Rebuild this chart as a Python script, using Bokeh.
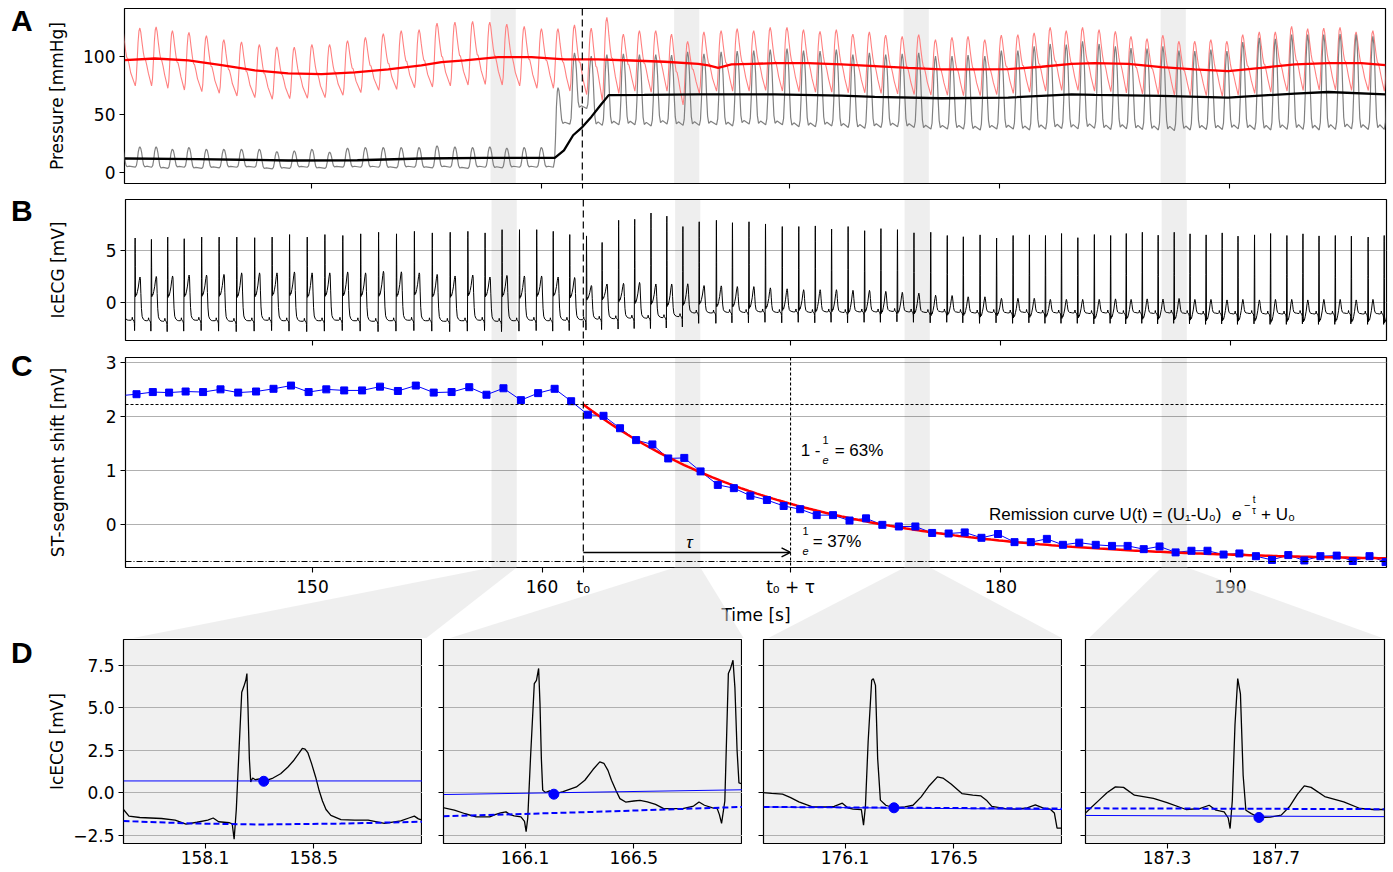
import numpy as np
from bokeh.plotting import figure
from bokeh.layouts import column, row
from bokeh.models import Range1d, FixedTicker, Span, BoxAnnotation, Label, Arrow, OpenHead, Div
from bokeh.embed import file_html
from bokeh.resources import INLINE

# ---------------------------------------------------------------- data
# one entry per heart beat: time of the ST measurement [s] and ST-segment shift [mV]
st_time = [141.56, 142.33, 143.04, 143.75, 144.47, 145.23, 145.99, 146.76, 147.54, 148.30,
           149.06, 149.83, 150.60, 151.38, 152.16, 152.94, 153.72, 154.50, 155.28, 156.06,
           156.83, 157.58, 158.32, 159.08, 159.83, 160.55, 161.27, 162.00, 162.68, 163.40,
           164.10, 164.81, 165.50, 166.20, 166.91, 167.66, 168.36, 169.08, 169.80, 170.53,
           171.25, 171.97, 172.68, 173.40, 174.12, 174.83, 175.55, 176.27, 177.00, 177.72,
           178.42, 179.15, 179.87, 180.59, 181.30, 182.00, 182.70, 183.41, 184.13, 184.84,
           185.52, 186.22, 186.91, 187.61, 188.30, 189.00, 189.70, 190.39, 191.11, 191.81,
           192.52, 193.22, 193.92, 194.63, 195.33, 196.06, 196.76]
st_shift = [2.38, 2.41, 2.45, 2.44, 2.46, 2.45, 2.50, 2.44, 2.46, 2.51,
            2.57, 2.45, 2.50, 2.48, 2.48, 2.55, 2.47, 2.57, 2.44, 2.45,
            2.54, 2.40, 2.52, 2.30, 2.43, 2.51, 2.28, 2.03, 2.01, 1.78,
            1.56, 1.48, 1.22, 1.23, 0.98, 0.73, 0.67, 0.53, 0.45, 0.34,
            0.28, 0.17, 0.17, 0.07, 0.11, -0.01, -0.04, -0.04, -0.16, -0.17,
            -0.15, -0.25, -0.18, -0.33, -0.33, -0.27, -0.38, -0.34, -0.38, -0.40,
            -0.40, -0.46, -0.41, -0.52, -0.49, -0.49, -0.56, -0.54, -0.59, -0.66,
            -0.57, -0.67, -0.59, -0.58, -0.68, -0.59, -0.70]
# IcECG per beat: R-peak, T-peak and isoelectric baseline [mV]
ecg_r = [6.2, 6.2, 6.07, 6.29, 6.13, 6.29, 6.29, 6.29, 6.23, 6.29,
         6.53, 6.29, 6.53, 6.44, 6.6, 6.75, 6.6, 6.84, 6.69, 6.75,
         6.84, 6.69, 7.0, 7.0, 7.0, 6.84, 6.53, 6.4, 5.77, 7.9,
         8.0, 8.6, 8.3, 7.3, 7.76, 7.9, 7.67, 7.76, 7.55, 7.3,
         7.3, 7.36, 7.06, 7.3, 6.9, 7.1, 7.0, 6.7, 6.75, 6.44,
         6.32, 6.5, 6.2, 6.44, 6.5, 6.44, 6.63, 6.23, 6.53, 6.44,
         6.63, 6.75, 6.47, 6.75, 6.6, 6.5, 6.69, 6.38, 6.5, 6.63,
         6.44, 6.6, 6.4, 6.44, 6.38, 6.29, 6.44]
ecg_t = [2.45, 2.45, 2.5, 2.55, 2.64, 2.64, 2.7, 2.85, 2.85, 2.85,
         2.94, 2.85, 2.85, 2.94, 2.85, 3.0, 2.95, 2.85, 2.7, 2.55,
         2.64, 2.45, 2.6, 2.55, 2.55, 2.45, 2.4, 1.63, 1.78, 1.84,
         1.93, 1.78, 1.78, 1.8, 1.63, 1.6, 1.53, 1.53, 1.41, 1.32,
         1.23, 1.23, 1.23, 1.17, 1.17, 1.07, 0.98, 0.9, 0.7, 0.67,
         0.55, 0.55, 0.4, 0.4, 0.4, 0.3, 0.3, 0.3, 0.3, 0.35,
         0.3, 0.35, 0.33, 0.39, 0.3, 0.3, 0.25, 0.3, 0.25, 0.3,
         0.3, 0.25, 0.3, 0.3, 0.25, 0.3, 0.3]
ecg_base = [-1.75, -1.7, -1.75, -1.8, -1.75, -1.7, -1.75, -1.8, -1.75, -1.7,
            -1.75, -1.8, -1.75, -1.7, -1.75, -1.8, -1.75, -1.7, -1.75, -1.8,
            -1.75, -1.7, -1.8, -1.75, -1.7, -1.75, -1.7, -1.65, -1.6, -1.55,
            -1.5, -1.5, -1.45, -1.35, -1.0, -1.0, -0.95, -0.95, -0.9, -0.95,
            -0.9, -0.95, -0.9, -0.95, -0.9, -0.9, -0.85, -0.9, -0.95, -0.9,
            -0.95, -1.0, -0.95, -1.0, -0.95, -1.0, -1.0, -1.0, -1.05, -1.0,
            -1.05, -1.0, -1.05, -1.0, -1.05, -1.1, -1.05, -1.1, -1.05, -1.1,
            -1.1, -1.05, -1.1, -1.1, -1.05, -1.1, -1.1]
# pressures per beat [mmHg]: red (systolic / diastolic) and grey curve (peak / trough)
red_sys = [126, 124.2, 125.1, 121.9, 120.5, 117.7, 114.2, 112.3, 110, 108,
           107.7, 110, 110, 113.4, 116.2, 119.4, 121.9, 122.8, 128.5, 129.3,
           130, 129.3, 127.6, 125.6, 123.6, 123.6, 127, 124.2, 133.3, 119,
           122, 122, 119, 112.8, 120.8, 122, 123.6, 122, 124.8, 124.8,
           122.8, 121.4, 122.8, 119, 120.8, 118, 117, 118.5, 114.2, 116.2,
           117, 114.2, 118, 118.5, 120, 124.8, 122, 124.8, 122.8, 121.4,
           117, 115, 118, 112.8, 112.8, 114.2, 112.8, 118.5, 120.8, 120.8,
           125.6, 123.6, 124.2, 124.8, 120.8, 122, 122]
red_dia = [75, 74.4, 74.4, 72.4, 70.9, 69.5, 68.1, 65.8, 64.4, 63,
           63.5, 63.8, 64.4, 66.4, 68.7, 70.7, 71.5, 72.9, 73.5, 74.4,
           75.2, 75.8, 75.2, 74.4, 72.4, 72.4, 70, 67, 62, 68,
           70, 69, 70, 58, 68, 70, 70, 70, 70.5, 70,
           69.5, 69, 69, 68.5, 68.5, 68, 67.5, 67, 66.5, 66.5,
           66, 66, 67, 68, 69, 70, 70.5, 70.5, 70, 69.5,
           68.5, 67.5, 67, 66.5, 66, 66, 65.5, 66.5, 68, 69,
           70, 70.5, 71, 71, 70.5, 70.5, 70]
gray_sys = [21, 22, 22, 20, 21.5, 20, 20, 20, 20, 18,
            18.5, 20, 17.5, 21, 21.5, 21.5, 21.5, 21.5, 23, 22,
            21.5, 22, 21, 21.5, 21.5, 73, 102.8, 100, 101.4, 102,
            101.4, 101.4, 101, 103.7, 102, 103.7, 104.3, 104.8, 105.7, 106.6,
            104.8, 104.3, 105.7, 101.4, 102.8, 101.4, 102, 102.8, 100, 100,
            100.9, 100, 104.8, 104.8, 108.5, 110.5, 110, 112.8, 110.5, 108.5,
            107, 106.6, 108.5, 104.8, 104.3, 105.7, 104.3, 112.2, 115.7, 115,
            118.5, 118.5, 118.5, 119, 118.5, 117, 117]
gray_dia = [4.5, 4.6, 4.5, 3.5, 4.5, 3.5, 4.0, 4.5, 4.5, 3.1,
            3.5, 4.5, 3.5, 4.6, 4.5, 4.5, 4.0, 4.5, 4.0, 4.5,
            3.5, 4.5, 4.0, 4.5, 4.5, 4.5, 41.6, 55, 40.5, 41,
            41, 40, 41.6, 40.5, 40.5, 41, 40, 41.6, 41, 41,
            39.3, 39.3, 40, 38.7, 38, 38.7, 39.3, 38.7, 37.3, 37.3,
            37.3, 36.5, 37.3, 37.3, 36.5, 37.3, 37.8, 37.5, 38, 37,
            37.5, 37, 36.5, 36, 36.5, 37, 37, 37.5, 37, 36.5,
            37, 37, 36.5, 37, 37.5, 37, 37]
# moving means of the two pressures
red_mean_t = [141.86, 143.17, 144.63, 146.08, 147.53, 148.98, 150.44, 151.89, 153.34, 154.79,
              155.66, 156.68, 158.13, 159.59, 161.04, 162.49, 163.94, 165.39, 166.85, 167.30,
              167.72, 168.30, 169.17, 170.19, 171.64, 173.09, 174.54, 176.0, 177.45, 178.90,
              180.36, 181.81, 183.12, 184.13, 185.59, 187.04, 188.49, 189.94, 191.39, 192.85,
              194.30, 195.75, 196.8]
red_mean_v = [96.6, 98, 96.3, 92.3, 87.7, 85.2, 84.6, 86, 88.6, 92,
              94.9, 96.3, 99.1, 99.1, 97.2, 97.2, 96.3, 95.2, 93.4, 92,
              90, 92.9, 93.4, 94, 94, 92.9, 91.5, 90, 88.6, 88.6,
              88.9, 90.9, 93.4, 94, 93.4, 90.6, 88.6, 87.2, 90, 92.9,
              94, 94, 92.3]
black_mean_t = [141.86, 145.0, 148.98, 152.0, 154.79, 157.5, 160.6, 161.0, 161.4, 161.8,
                162.2, 162.6, 162.95, 164.5, 166.85, 170.19, 173.09, 174.54, 177.45, 180.36,
                183.12, 184.13, 187.04, 189.94, 192.85, 194.30, 196.8]
black_mean_v = [12, 11.5, 10.3, 10.5, 12, 12.5, 12.5, 19, 32, 39,
                48, 58, 66.5, 66.7, 67.2, 67.2, 66, 65, 63.8, 64.4,
                67.2, 66.7, 65.8, 64.4, 67.8, 69.2, 67.2]

# remission-curve parameters
T0 = 161.8
TAU = 9.03
T0_TAU = round(T0 + TAU, 2)
U1 = 2.22
U0 = -0.69
ST_DELAY = 0.06           # ST point lies this long after the R peak

X0, X1 = 141.85, 196.8
main_ticks = [150, 160, T0, T0_TAU, 180, 190]
main_tick_labels = {150: "150", 160: "160", T0: "t\u2080", T0_TAU: "t\u2080 + \u03c4", 180: "180", 190: "190"}

# zoomed beats (panel D)
zoom_start = [157.8, 165.8, 175.8, 187.0]
ZOOM_LEN = 1.1
zoom_ticks = [[158.1, 158.5], [166.1, 166.5], [176.1, 176.5], [187.3, 187.7]]
d1_t = [157.797, 157.82, 157.86, 157.94, 157.99, 158.03, 158.07, 158.11, 158.13, 158.15,
        158.19, 158.200, 158.207, 158.215, 158.225, 158.235, 158.242, 158.25, 158.254, 158.258,
        158.263, 158.268, 158.275, 158.285, 158.30, 158.316, 158.35, 158.378, 158.405, 158.427,
        158.445, 158.458, 158.468, 158.478, 158.492, 158.507, 158.52, 158.532, 158.545, 158.563,
        158.60, 158.65, 158.70, 158.76, 158.82, 158.85, 158.87, 158.885, 158.904]
d1_v = [-0.94, -1.39, -1.47, -1.53, -1.63, -1.86, -1.75, -1.62, -1.5, -1.72,
        -1.78, -1.85, -2.75, -1.0, 2.5, 5.9, 6.2, 6.6, 7.0, 5.0,
        2.0, 0.62, 0.85, 0.75, 0.8, 0.66, 0.85, 1.1, 1.5, 1.9,
        2.3, 2.6, 2.55, 2.35, 1.7, 0.9, 0.1, -0.5, -1.0, -1.35,
        -1.6, -1.62, -1.63, -1.82, -1.67, -1.5, -1.39, -1.55, -1.65]
d2_t = [165.795, 165.84, 165.88, 165.92, 165.97, 165.99, 166.01, 166.03, 166.045, 166.06,
        166.085, 166.098, 166.104, 166.11, 166.12, 166.134, 166.142, 166.150, 166.155, 166.16,
        166.165, 166.175, 166.19, 166.206, 166.24, 166.289, 166.32, 166.35, 166.375, 166.39,
        166.405, 166.418, 166.435, 166.449, 166.47, 166.5, 166.523, 166.55, 166.58, 166.61,
        166.68, 166.72, 166.74, 166.76, 166.79, 166.807, 166.815, 166.823, 166.835, 166.848,
        166.856, 166.865, 166.872, 166.88, 166.887, 166.9]
d2_v = [-0.88, -1.04, -1.25, -1.43, -1.43, -1.3, -1.2, -1.14, -1.3, -1.38,
        -1.43, -1.7, -2.3, -1.5, 2.0, 6.4, 6.6, 7.3, 5.2, 2.0,
        0.14, 0.0, 0.1, -0.1, 0.05, 0.33, 0.72, 1.35, 1.8, 1.72,
        1.3, 0.72, 0.1, -0.36, -0.56, -0.5, -0.46, -0.55, -0.7, -0.95,
        -0.95, -0.8, -0.56, -0.75, -0.9, -0.95, -1.3, -1.82, -0.5, 7.0,
        7.3, 7.78, 6.2, 2.5, 0.56, 0.5]
d3_t = [175.795, 175.83, 175.87, 175.90, 175.93, 175.98, 176.03, 176.06, 176.09, 176.11,
        176.13, 176.16, 176.168, 176.175, 176.185, 176.198, 176.204, 176.212, 176.22, 176.23,
        176.25, 176.28, 176.32, 176.35, 176.38, 176.41, 176.44, 176.46, 176.49, 176.53,
        176.57, 176.6, 176.62, 176.64, 176.69, 176.73, 176.77, 176.80, 176.83, 176.855,
        176.87, 176.88, 176.9]
d3_v = [0.0, -0.05, -0.1, -0.3, -0.55, -0.85, -0.85, -0.82, -0.63, -0.9,
        -0.98, -1.0, -1.92, -0.8, 3.0, 6.6, 6.7, 6.3, 2.0, -0.45,
        -0.75, -0.9, -0.85, -0.75, -0.26, 0.4, 0.92, 0.85, 0.5, -0.06,
        -0.15, -0.2, -0.45, -0.82, -0.95, -0.98, -0.9, -0.73, -0.92, -0.98,
        -1.2, -2.1, -2.1]
d4_t = [186.998, 187.02, 187.05, 187.08, 187.11, 187.14, 187.18, 187.25, 187.30, 187.37,
        187.42, 187.455, 187.48, 187.51, 187.525, 187.532, 187.54, 187.55, 187.56, 187.57,
        187.58, 187.59, 187.61, 187.638, 187.68, 187.72, 187.75, 187.78, 187.805, 187.83,
        187.88, 187.95, 188.01, 188.06, 188.1]
d4_v = [-1.24, -0.9, -0.45, 0.0, 0.33, 0.3, -0.16, -0.35, -0.6, -1.0,
        -0.95, -0.75, -1.04, -1.14, -1.5, -2.12, -0.5, 4.0, 6.7, 5.8,
        1.0, -1.04, -1.24, -1.47, -1.45, -1.33, -0.84, -0.1, 0.39, 0.3,
        -0.24, -0.55, -0.94, -1.0, -1.0]
zoom_trace_t = [d1_t, d2_t, d3_t, d4_t]
zoom_trace_v = [d1_v, d2_v, d3_v, d4_v]
st_dot_t = [158.316, 166.206, 176.28, 187.638]
st_dot_v = [0.66, -0.1, -0.9, -1.47]
st_level_v = [[0.68, 0.68], [-0.12, 0.16], [-0.85, -1.0], [-1.35, -1.42]]   # thin line, window start/end
iso_t = [[157.8, 158.05, 158.3, 158.6, 158.9], [165.8, 166.35, 166.9], [175.8, 176.9], [187.0, 188.1]]
iso_v = [[-1.68, -1.82, -1.88, -1.83, -1.72], [-1.40, -1.14, -0.85], [-0.85, -0.95], [-0.93, -0.98]]
d_yticks = [-2.5, 0.0, 2.5, 5.0, 7.5]
d_ytick_labels = {-2.5: "\u22122.5", 0.0: "0.0", 2.5: "2.5", 5.0: "5.0", 7.5: "7.5"}

# single-beat shape templates (seconds after R peak, fraction of pulse amplitude)
RED_DT = [0.05, 0.09, 0.13, 0.17, 0.21, 0.25, 0.29, 0.34, 0.40, 0.45, 0.49, 0.55, 0.62]
RED_FR = [0.0, 0.12, 0.42, 0.75, 0.95, 1.0, 0.93, 0.76, 0.58, 0.47, 0.46, 0.36, 0.22]
GRAY_DT = [0.05, 0.10, 0.14, 0.18, 0.22, 0.25, 0.29, 0.33, 0.37, 0.41, 0.46, 0.55]
GRAY_FR = [0.0, 0.08, 0.35, 0.75, 0.95, 1.0, 0.92, 0.7, 0.38, 0.12, 0.02, 0.05]
PEAK_DT = 0.25

# ---------------------------------------------------------------- layout / style
FONT = "DejaVu Sans"
ANNOT_FONT = "Liberation Sans"
TICK_FS = "17px"
LABEL_FS = "17px"
DIV_W = 44
BORDER_L = 79
MAIN_FW = 1261
MAIN_BR = 2
A_FH, B_FH, C_FH = 175, 141, 210
A_MT, A_MB = 8, 14
B_MT, B_MB = 2, 14
C_MT, C_MB = 3, 71
D_FW, D_FH = 299, 204
D_MT, D_MB = 1, 27
D_GAPS = [21, 21, 23]
A_Y = (-9.5, 141.0)
B_Y = (-3.65, 9.9)
C_Y = (-0.8, 3.09)
D_Y = (-3.0, 9.0)


def ecg_series():
    ts, vs = [], []
    n = len(st_time)
    for i in range(n):
        r = st_time[i] - ST_DELAY
        b = ecg_base[i]
        R = ecg_r[i]
        T = ecg_t[i]
        s = b + st_shift[i]
        bn = ecg_base[i + 1] if i + 1 < n else b
        pts = [(-0.17, b), (-0.14, b + 0.08), (-0.125, b + 0.28), (-0.11, b + 0.1), (-0.09, b),
               (-0.05, b - 0.05), (-0.032, b - 0.3), (-0.024, b - 1.0), (-0.018, b - 0.3),
               (-0.010, 0.5 * (b + R)), (-0.004, R - 0.6), (0.0, R), (0.004, R - 1.5),
               (0.009, 0.5 * (R + s)), (0.015, s - 0.15), (0.024, s + 0.12), (0.038, s), (0.06, s),
               (0.10, s + 0.2 * (T - s)), (0.14, s + 0.45 * (T - s)), (0.18, s + 0.82 * (T - s)),
               (0.21, T), (0.228, T - 0.08 * (T - s)), (0.25, bn + 0.62 * (T - bn)),
               (0.275, bn + 0.28 * (T - bn)), (0.305, bn + 0.1 * (T - bn)), (0.35, bn + 0.04 * (T - bn)),
               (0.42, bn + 0.03), (0.48, bn)]
        for dt, v in pts:
            ts.append(r + dt)
            vs.append(v)
    return ts, vs


def pressure_series(sys_v, dia_v, dts, frs):
    ts, vs = [], []
    n = len(st_time)
    for i in range(n):
        r = st_time[i] - ST_DELAY
        dn = dia_v[i + 1] if i + 1 < n else dia_v[i]
        for dt, fr in zip(dts, frs):
            d = dia_v[i] if dt <= PEAK_DT else dn
            ts.append(r + dt)
            vs.append(d + fr * (sys_v[i] - d))
    return ts, vs


def style_axis(ax):
    ax.axis_line_color = None
    ax.major_tick_line_color = "black"
    ax.major_tick_line_width = 1.1
    ax.major_tick_out = 5
    ax.major_tick_in = 0
    ax.minor_tick_line_color = None
    ax.major_label_text_font = FONT
    ax.major_label_text_font_size = TICK_FS
    ax.major_label_text_color = "black"
    ax.major_label_standoff = 4
    ax.axis_label_text_font = FONT
    ax.axis_label_text_font_size = LABEL_FS
    ax.axis_label_text_font_style = "normal"
    ax.axis_label_text_color = "black"


def hide_labels(axes):
    for ax in axes:
        ax.major_label_text_font_size = "0px"
        ax.major_label_text_color = None
        ax.major_label_text_alpha = 0
        ax.major_label_standoff = 0


def base_fig(fw, fh, xr, yr, ml, mr, mt, mb):
    p = figure(frame_width=fw, frame_height=fh, x_range=xr, y_range=yr,
               output_backend="svg", toolbar_location=None,
               min_border_left=ml, min_border_right=mr, min_border_top=mt, min_border_bottom=mb)
    p.outline_line_color = "black"
    p.outline_line_width = 1.2
    p.xgrid.visible = False
    p.ygrid.grid_line_color = "#b0b0b0"
    p.ygrid.grid_line_width = 1.2
    for ax in list(p.xaxis) + list(p.yaxis):
        style_axis(ax)
    return p


def set_ticks(p, xt=None, yt=None):
    if xt is not None:
        p.xaxis.ticker = FixedTicker(ticks=xt)
        p.xgrid.ticker = FixedTicker(ticks=xt)
    if yt is not None:
        p.yaxis.ticker = FixedTicker(ticks=yt)
        p.ygrid.ticker = FixedTicker(ticks=yt)


def add_bands(p):
    for w in zoom_start:
        p.add_layout(BoxAnnotation(left=w, right=w + ZOOM_LEN, fill_color="black", fill_alpha=0.065,
                                   line_color=None, level="underlay"))


def add_text(p, x, y, text, size="17px", style="normal", dx=0, dy=0, align="left"):
    p.add_layout(Label(x=x, y=y, text=text, x_offset=dx, y_offset=dy, text_font=ANNOT_FONT,
                       text_font_size=size, text_font_style=style, text_align=align,
                       text_baseline="middle", text_color="black"))


def letter(txt, h, pad_top):
    html = ('<div style="font-family:\'Liberation Sans\',Arial,sans-serif;font-weight:bold;'
            'font-size:30px;line-height:24px;padding-left:11px;padding-top:%dpx;">%s</div>' % (pad_top, txt))
    return Div(text=html, width=DIV_W, height=h, margin=(0, 0, 0, 0))


x_rng = Range1d(X0, X1)

# ---------------------------------------------------------------- panel A
pA = base_fig(MAIN_FW, A_FH, x_rng, Range1d(*A_Y), BORDER_L, MAIN_BR, A_MT, A_MB)
add_bands(pA)
rt, rv = pressure_series(red_sys, red_dia, RED_DT, RED_FR)
gt, gv = pressure_series(gray_sys, gray_dia, GRAY_DT, GRAY_FR)
pA.line(rt, rv, color="#ff8080", line_width=1.1)
pA.line(gt, gv, color="#808080", line_width=1.2)
pA.line(red_mean_t, red_mean_v, color="red", line_width=2.3)
pA.line(black_mean_t, black_mean_v, color="black", line_width=2.3)
pA.add_layout(Span(location=T0, dimension="height", line_color="black", line_dash="7 4", line_width=1.2))
set_ticks(pA, main_ticks, [0, 50, 100])
pA.ygrid.visible = False
hide_labels(pA.xaxis)
pA.yaxis.axis_label = "Pressure [mmHg]"
pA.yaxis.axis_label_standoff = 13

# ---------------------------------------------------------------- panel B
pB = base_fig(MAIN_FW, B_FH, x_rng, Range1d(*B_Y), BORDER_L, MAIN_BR, B_MT, B_MB)
add_bands(pB)
et, ev = ecg_series()
pB.line(et, ev, color="black", line_width=1.0)
pB.add_layout(Span(location=T0, dimension="height", line_color="black", line_dash="7 4", line_width=1.2))
set_ticks(pB, main_ticks, [0, 5])
hide_labels(pB.xaxis)
pB.yaxis.axis_label = "IcECG [mV]"
pB.yaxis.axis_label_standoff = 35

# ---------------------------------------------------------------- panel C
pC = base_fig(MAIN_FW, C_FH, x_rng, Range1d(*C_Y), BORDER_L, MAIN_BR, C_MT, C_MB)
add_bands(pC)
set_ticks(pC, main_ticks, [0, 1, 2, 3])
pC.xaxis.major_label_overrides = main_tick_labels
pC.xaxis.axis_label = "Time [s]"
pC.xaxis.axis_label_standoff = 5
pC.yaxis.axis_label = "ST-segment shift [mV]"
pC.yaxis.axis_label_standoff = 35
pC.add_layout(Span(location=U1, dimension="width", line_color="black", line_dash="3 2", line_width=1.1))
pC.add_layout(Span(location=U0, dimension="width", line_color="black", line_dash="6 2 1 2", line_width=1.1))
pC.add_layout(Span(location=T0, dimension="height", line_color="black", line_dash="7 4", line_width=1.2))
pC.add_layout(Span(location=T0_TAU, dimension="height", line_color="black", line_dash="3 2", line_width=1.1))
pC.line(st_time, st_shift, color="blue", line_width=1.0)
fit_t = np.linspace(T0, X1, 200)
fit_v = (U1 - U0) * np.exp(-(fit_t - T0) / TAU) + U0
pC.line(fit_t, fit_v, color="red", line_width=2.5)
pC.scatter(st_time, st_shift, marker="square", size=7, color="blue")
pC.add_layout(Arrow(end=OpenHead(size=9, line_width=1.5, line_color="black"), x_start=T0, y_start=-0.52,
                    x_end=T0_TAU, y_end=-0.52, line_width=1.5, line_color="black"))
add_text(pC, 166.42, -0.33, "\u03c4", style="italic", align="center")
# 1 - 1/e = 63 %
add_text(pC, 171.27, 1.37, "1 -")
add_text(pC, 171.27, 1.37, "1", size="11px", dx=25, dy=10, align="center")
add_text(pC, 171.27, 1.37, "e", size="11px", style="italic", dx=25, dy=-10, align="center")
add_text(pC, 171.27, 1.37, "= 63%", dx=34)
# 1/e = 37 %
add_text(pC, 171.27, -0.31, "1", size="11px", dx=5, dy=10, align="center")
add_text(pC, 171.27, -0.31, "e", size="11px", style="italic", dx=5, dy=-10, align="center")
add_text(pC, 171.27, -0.31, "= 37%", dx=12)
# remission curve formula
add_text(pC, 179.48, 0.19, "Remission curve U(t) = (U\u2081-U\u2080)")
add_text(pC, 179.48, 0.19, "e", style="italic", dx=243)
add_text(pC, 179.48, 0.19, "\u2212", size="11px", dx=255, dy=9)
add_text(pC, 179.48, 0.19, "t", size="10px", dx=265, dy=15, align="center")
add_text(pC, 179.48, 0.19, "\u03c4", size="10px", dx=265, dy=4, align="center")
add_text(pC, 179.48, 0.19, "+ U\u2080", dx=272)

# connector wedges from the bands down to the zoomed panels (drawn below the frame)
c_left_px = DIV_W + BORDER_L
c_px_per_s = MAIN_FW / (X1 - X0)
d_left_px = []
xp = DIV_W + BORDER_L
for k in range(4):
    d_left_px.append(xp)
    xp += D_FW + (D_GAPS[k] if k < 3 else 0)


def px2t(px):
    return X0 + (px - c_left_px) / c_px_per_s


y_bottom = C_Y[0] - (C_MB + D_MT) * (C_Y[1] - C_Y[0]) / C_FH
wedge_x, wedge_y = [], []
for k, w in enumerate(zoom_start):
    wedge_x.append([w, w + ZOOM_LEN, px2t(d_left_px[k] + D_FW), px2t(d_left_px[k])])
    wedge_y.append([C_Y[0], C_Y[0], y_bottom, y_bottom])
pC.patches(wedge_x, wedge_y, fill_color="#e0e0e0", fill_alpha=0.5, line_color=None, level="overlay")

# ---------------------------------------------------------------- panel D
d_figs = []
for k in range(4):
    w0 = zoom_start[k]
    ml = BORDER_L if k == 0 else D_GAPS[k - 1]
    mr = 2 if k == 3 else 0
    p = base_fig(D_FW, D_FH, Range1d(w0, w0 + ZOOM_LEN), Range1d(*D_Y), ml, mr, D_MT, D_MB)
    p.background_fill_color = "#f0f0f0"
    set_ticks(p, zoom_ticks[k], d_yticks)
    p.xaxis.major_label_standoff = 2
    if k == 0:
        p.yaxis.major_label_overrides = d_ytick_labels
        p.yaxis.axis_label = "IcECG [mV]"
        p.yaxis.axis_label_standoff = 3
    else:
        hide_labels(p.yaxis)
    p.line(zoom_trace_t[k], zoom_trace_v[k], color="black", line_width=1.3)
    p.line([w0, w0 + ZOOM_LEN], st_level_v[k], color="blue", line_width=1.0)
    p.line(iso_t[k], iso_v[k], color="blue", line_width=2.0, line_dash="6 3")
    p.scatter([st_dot_t[k]], [st_dot_v[k]], size=10, color="blue")
    d_figs.append(p)

layout = column(
    row(letter("A", A_MT + A_FH + A_MB, 9), pA),
    row(letter("B", B_MT + B_FH + B_MB, 2), pB),
    row(letter("C", C_MT + C_FH + C_MB, 0), pC),
    row(letter("D", D_MT + D_FH + D_MB, 3), *d_figs),
)

open("out.html", "w").write(file_html(layout, INLINE, "ST-segment remission"))
